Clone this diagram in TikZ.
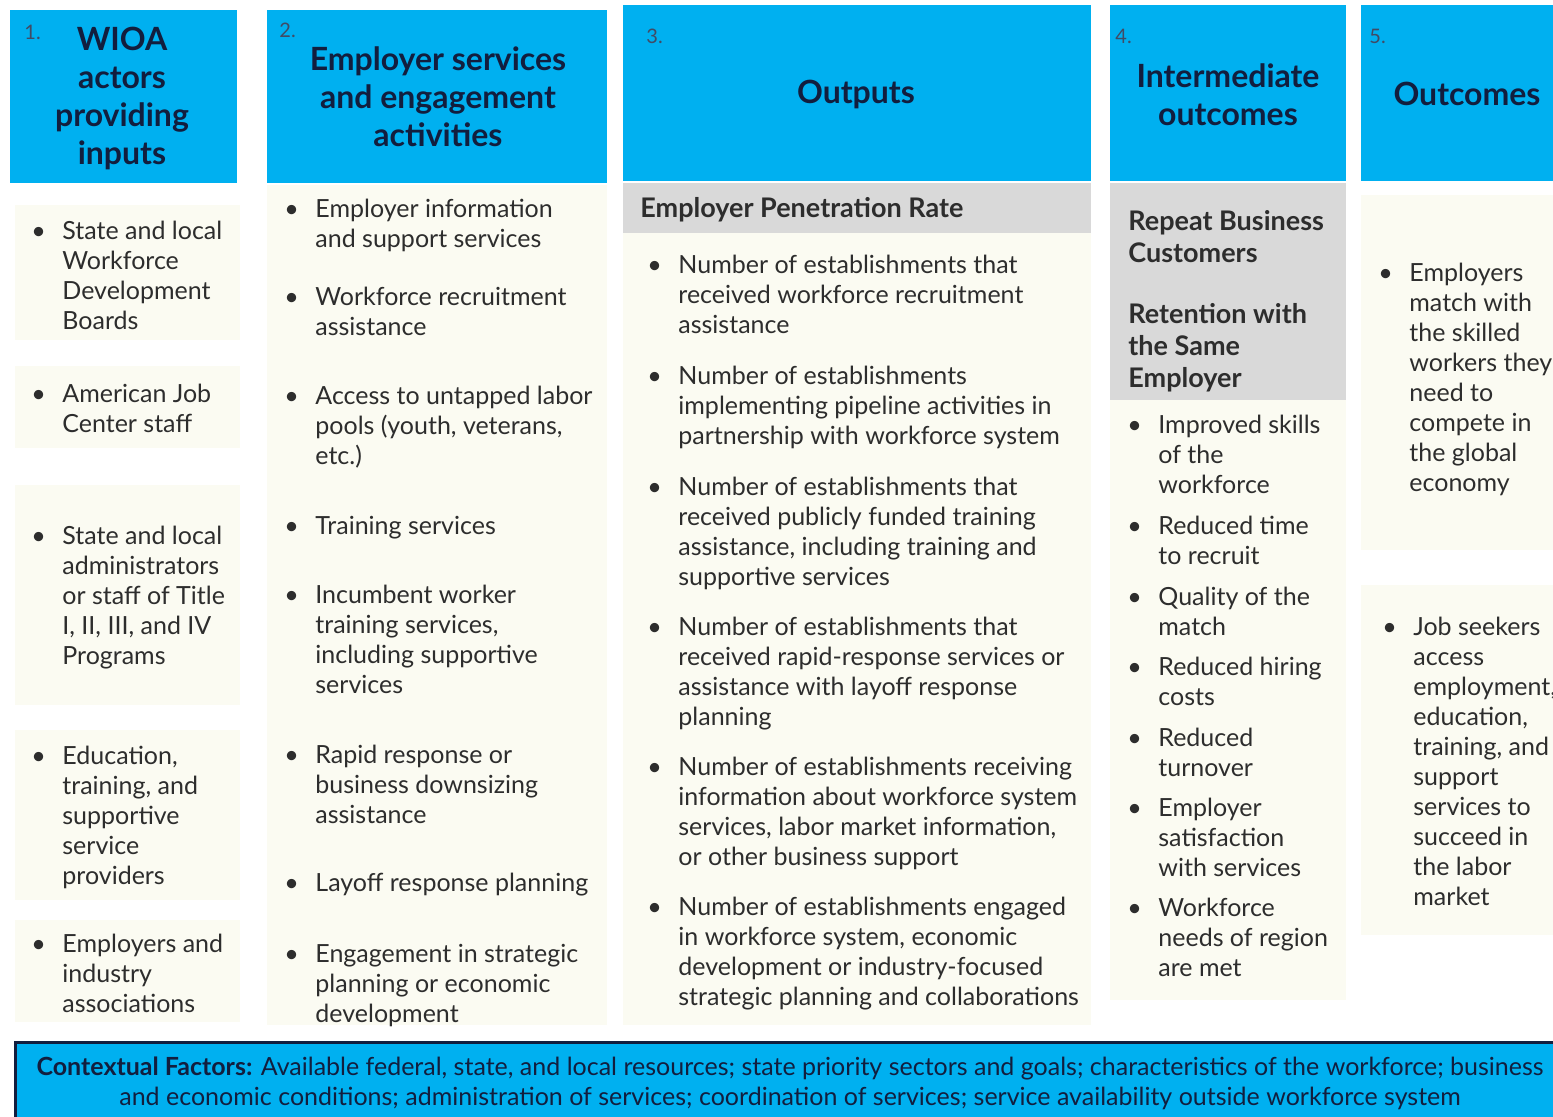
\documentclass[tikz,border=0pt]{standalone}
\usepackage{fontspec}
\setmainfont{Lato}
\definecolor{hdrblue}{RGB}{0,176,240}
\definecolor{cream}{RGB}{251,251,242}
\definecolor{band}{RGB}{217,217,217}
\definecolor{navy}{RGB}{18,30,62}
\definecolor{txt}{RGB}{45,45,45}
\newcommand{\bitem}[1]{\makebox[15.5pt][l]{\textbullet}\begin{tabular}[t]{@{}l@{}}#1\end{tabular}}

\begin{document}
\begin{tikzpicture}[x=0.5pt,y=-0.5pt,
    itm/.style={anchor=base west,inner sep=0pt,text=txt,font=\fontsize{12.5}{15}\selectfont},
    htxt/.style={align=center,inner sep=0pt,text=navy,font=\fontsize{16}{19}\selectfont\bfseries},
    num/.style={anchor=base west,inner sep=0pt,text=navy!80,font=\fontsize{10}{12}\selectfont},
    btxt/.style={anchor=base west,inner sep=0pt,text=txt,font=\fontsize{13.5}{16}\selectfont\bfseries}]

    \useasboundingbox (0,0) rectangle (1553,1116);
    \clip (0,0) rectangle (1553,1116);

    % column backgrounds
    \fill[cream] (15,205) rectangle (240,340);
    \fill[cream] (15,366) rectangle (240,448);
    \fill[cream] (15,485) rectangle (240,705);
    \fill[cream] (15,730) rectangle (240,900);
    \fill[cream] (15,920) rectangle (240,1022);
    \fill[cream] (267,185) rectangle (607,1025);
    \fill[cream] (623,233) rectangle (1091,1025);
    \fill[cream] (1110,400) rectangle (1346,1000);
    \fill[cream] (1361,195) rectangle (1553,550);
    \fill[cream] (1361,585) rectangle (1553,935);
    \fill[band] (623,183) rectangle (1091,233);
    \fill[band] (1110,183) rectangle (1346,400);

    % headers
    \fill[hdrblue] (10,10) rectangle (237,183);
    \fill[hdrblue] (267,10) rectangle (607,183);
    \fill[hdrblue] (623,5) rectangle (1091,181);
    \fill[hdrblue] (1110,5) rectangle (1346,181);
    \fill[hdrblue] (1361,5) rectangle (1553,181);

    \node[num] (n1) at (24,39) {1.};
    \node[num] (n2) at (279,37) {2.};
    \node[num] (n3) at (646,43) {3.};
    \node[num] (n4) at (1115,43) {4.};
    \node[num] (n5) at (1369,43) {5.};

    \node[htxt] (h1) at (122,98) {WIOA\\actors\\providing\\inputs};
    \node[htxt] (h2) at (438,97) {Employer services\\and engagement\\activities};
    \node[htxt] (h3) at (856,94) {Outputs};
    \node[htxt] (h4) at (1228,95) {Intermediate\\outcomes};
    \node[htxt] (h5) at (1467,94) {Outcomes};

    % 1. inputs
    \node[itm] (a1) at (31,239) {\bitem{State and local\\Workforce\\Development\\Boards}};
    \node[itm] (a2) at (31,402) {\bitem{American Job\\Center staff}};
    \node[itm] (a3) at (31,544) {\bitem{State and local\\administrators\\or staff of Title\\I, II, III, and IV\\Programs}};
    \node[itm] (a4) at (31,764) {\bitem{Education,\\training, and\\supportive\\service\\providers}};
    \node[itm] (a5) at (31,952) {\bitem{Employers and\\industry\\associations}};

    % 2. activities
    \node[itm] (b1) at (284,217) {\bitem{Employer information\\and support services}};
    \node[itm] (b2) at (284,305) {\bitem{Workforce recruitment\\assistance}};
    \node[itm] (b3) at (284,404) {\bitem{Access to untapped labor\\pools (youth, veterans,\\etc.)}};
    \node[itm] (b4) at (284,534) {\bitem{Training services}};
    \node[itm] (b5) at (284,603) {\bitem{Incumbent worker\\training services,\\including supportive\\services}};
    \node[itm] (b6) at (284,763) {\bitem{Rapid response or\\business downsizing\\assistance}};
    \node[itm] (b7) at (284,891) {\bitem{Layoff response planning}};
    \node[itm] (b8) at (284,962) {\bitem{Engagement in strategic\\planning or economic\\development}};

    % 3. outputs
    \node[btxt] (c0) at (640,217) {Employer Penetration Rate};
    \node[itm] (c1) at (647,273) {\bitem{Number of establishments that\\received workforce recruitment\\assistance}};
    \node[itm] (c2) at (647,384) {\bitem{Number of establishments\\implementing pipeline activities in\\partnership with workforce system}};
    \node[itm] (c3) at (647,495) {\bitem{Number of establishments that\\received publicly funded training\\assistance, including training and\\supportive services}};
    \node[itm] (c4) at (647,635) {\bitem{Number of establishments that\\received rapid-response services or\\assistance with layoff response\\planning}};
    \node[itm] (c5) at (647,775) {\bitem{Number of establishments receiving\\information about workforce system\\services, labor market information,\\or other business support}};
    \node[itm] (c6) at (647,915) {\bitem{Number of establishments engaged\\in workforce system, economic\\development or industry-focused\\strategic planning and collaborations}};

    % 4. intermediate outcomes
    \node[btxt] (d0) at (1128,230) {\begin{tabular}[t]{@{}l@{}}Repeat Business\\Customers\end{tabular}};
    \node[btxt] (d00) at (1128,323) {\begin{tabular}[t]{@{}l@{}}Retention with\\the Same\\Employer\end{tabular}};
    \node[itm] (d1) at (1127,433) {\bitem{Improved skills\\of the\\workforce}};
    \node[itm] (d2) at (1127,534) {\bitem{Reduced time\\to recruit}};
    \node[itm] (d3) at (1127,605) {\bitem{Quality of the\\match}};
    \node[itm] (d4) at (1127,675) {\bitem{Reduced hiring\\costs}};
    \node[itm] (d5) at (1127,746) {\bitem{Reduced\\turnover}};
    \node[itm] (d6) at (1127,816) {\bitem{Employer\\satisfaction\\with services}};
    \node[itm] (d7) at (1127,916) {\bitem{Workforce\\needs of region\\are met}};

    % 5. outcomes
    \node[itm] (e1) at (1378,281) {\bitem{Employers\\match with\\the skilled\\workers they\\need to\\compete in\\the global\\economy}};
    \node[itm] (e2) at (1382,635) {\bitem{Job seekers\\access\\employment,\\education,\\training, and\\support\\services to\\succeed in\\the labor\\market}};

    % contextual factors
    \draw[navy,line width=1.5pt,fill=hdrblue] (15,1042) rectangle (1570,1130);
    \node[align=center,inner sep=0pt,text=navy,font=\fontsize{12.5}{15}\selectfont] (ctx) at (790,1083)
        {\textbf{Contextual Factors:} Available federal, state, and local resources; state priority sectors and goals; characteristics of the workforce; business\\and economic conditions; administration of services; coordination of services; service availability outside workforce system};
\end{tikzpicture}
\end{document}
